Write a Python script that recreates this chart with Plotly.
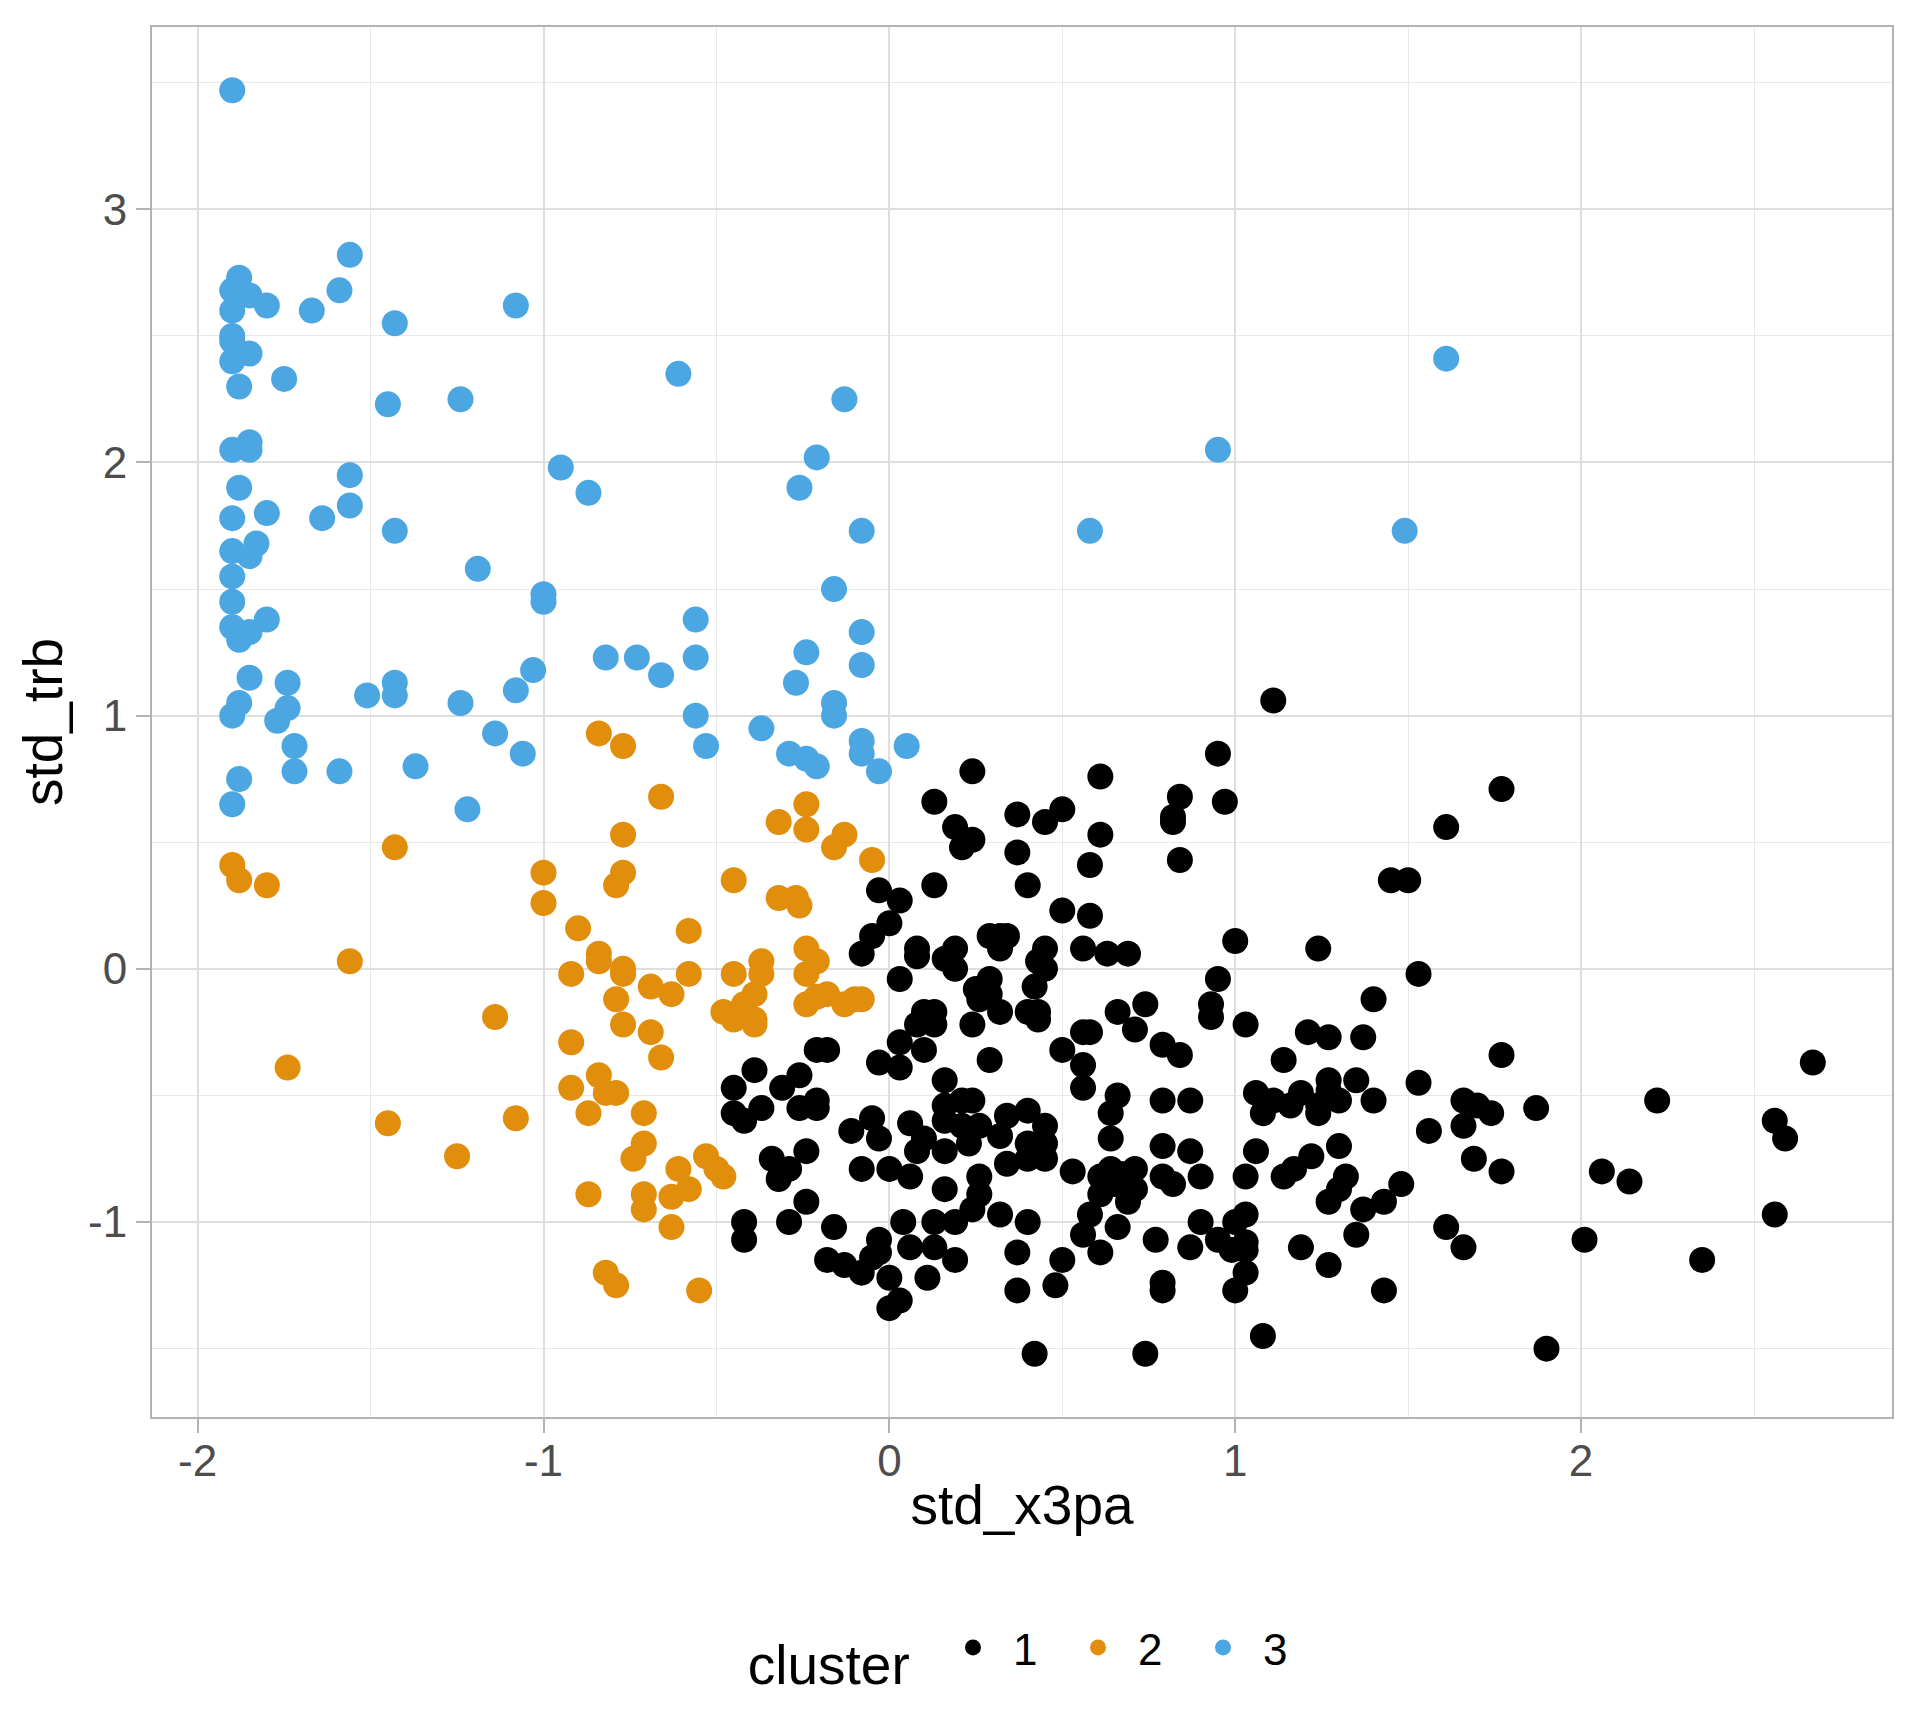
import plotly.graph_objects as go

# cluster 1 (black)
c1_x = [-0.03, 0.03, 0.00, -0.05, -0.08, 0.03,
        -0.21, -0.18, -0.39, -0.45, -0.31, -0.26, -0.37, -0.45, -0.42, -0.26, -0.21, -0.21,
        -0.34, -0.29, -0.32, -0.24, -0.24, -0.42, -0.42, -0.29, -0.16, -0.18, -0.13, -0.08,
        -0.05, -0.03, -0.03, 0.00, 0.03, 0.00, -0.11, -0.05, -0.03, -0.08, 0.00, -0.03, 0.03,
        0.24, 0.61, 0.13, 0.19, 0.24, 0.21, 0.37, 0.45, 0.50, 0.61, 0.84, 0.82, 0.82, 0.97,
        0.37, 0.58, 0.84, 0.13, 0.40, 0.50, 0.58, 0.29, 0.32, 0.34, 0.32, 0.08, 0.08, 0.19,
        0.16, 0.19, 0.45, 0.43, 0.45, 0.56, 0.63, 0.69, 1.00, 0.29, 0.25, 0.26, 0.29, 0.32,
        0.24, 0.42, 0.40, 0.43, 0.43, 0.10, 0.13, 0.13, 0.08, 0.03, 0.10, 0.29, 0.50, 0.56,
        0.58, 0.56, 0.66, 0.74, 0.71, 0.79, 0.84, 0.95, 0.93, 0.93, 0.95, 1.11,
        0.56, 0.16, 0.21, 0.24, 0.16, 0.16, 0.06, 0.21, 0.26, 0.34, 0.40, 0.45, 0.32, 0.40,
        0.45, 0.40, 0.45, 0.34, 0.10, 0.08, 0.16, 0.23, 0.06, 0.26, 0.16, 0.26, 0.24, 0.19,
        0.13, 0.04, 0.06, 0.13, 0.19, 0.11, 0.32, 0.40, 0.37, 0.37, 0.48, 0.50, 0.42, 0.53,
        0.66, 0.64, 0.64, 0.61, 0.64, 0.67, 0.71, 0.71, 0.69, 0.65, 0.61, 0.58, 0.56, 0.66,
        0.61, 0.79, 0.87, 0.79, 0.87, 0.79, 0.82, 0.90, 0.90, 0.77, 0.87, 0.95, 0.79, 0.79,
        0.74,
        1.77, 1.61, 1.45, 1.50, 1.24, 1.53, 1.40, 1.03, 1.21, 1.27, 1.37, 1.14, 1.77,
        1.06, 1.11, 1.08, 1.16, 1.19, 1.24, 1.27, 1.27, 1.30, 1.24, 1.35, 1.40, 1.53, 1.56,
        1.66, 1.70, 1.74, 1.66, 1.87, 1.69, 1.77, 1.06, 1.03, 1.14, 1.17, 1.22, 1.30, 1.32,
        1.30, 1.27, 1.37, 1.43, 1.48, 1.03, 1.00, 1.03, 1.03, 0.99, 1.03, 1.00, 1.19, 1.27,
        1.35, 1.43, 1.61, 1.66, 1.08, 1.90,
        2.22, 2.67, 2.56, 2.59, 2.06, 2.14, 2.56, 2.01, 2.35]
c1_y = [0.31, 0.27, 0.18, 0.13, 0.06, -0.04,
        -0.32, -0.32, -0.40, -0.47, -0.47, -0.42, -0.55, -0.57, -0.60, -0.55, -0.52, -0.55,
        -0.75, -0.79, -0.83, -0.72, -0.92, -1.00, -1.07, -1.00, -1.02, -1.15, -1.17, -1.20,
        -1.14, -1.07, -1.12, -1.22, -1.31, -1.34, -0.64, -0.59, -0.67, -0.79, -0.79, -0.37, -0.39,
        0.78, 0.76, 0.66, 0.56, 0.51, 0.48, 0.61, 0.58, 0.63, 0.53, 0.68, 0.60, 0.58, 0.66,
        0.46, 0.41, 0.43, 0.33, 0.33, 0.23, 0.21, 0.13, 0.13, 0.13, 0.08, 0.08, 0.05, 0.08,
        0.04, 0.00, 0.08, 0.03, 0.00, 0.08, 0.06, 0.06, 0.11, -0.04, -0.08, -0.12, -0.10, -0.17,
        -0.22, -0.07, -0.17, -0.17, -0.20, -0.17, -0.17, -0.22, -0.22, -0.29, -0.32, -0.36, -0.32, -0.25,
        -0.25, -0.38, -0.17, -0.14, -0.24, -0.30, -0.34, -0.04, -0.14, -0.19, 0.85, 1.06,
        -0.47, -0.44, -0.52, -0.52, -0.54, -0.60, -0.61, -0.62, -0.62, -0.58, -0.56, -0.62, -0.66, -0.69,
        -0.69, -0.75, -0.75, -0.77, -0.67, -0.72, -0.72, -0.69, -0.82, -0.82, -0.87, -0.89, -0.95, -1.00,
        -1.00, -1.00, -1.10, -1.10, -1.15, -1.22, -0.97, -1.00, -1.12, -1.27, -1.25, -1.15, -1.52, -0.80,
        -0.50, -0.57, -0.67, -0.82, -0.79, -0.81, -0.79, -0.87, -0.92, -0.85, -0.89, -0.97, -1.05, -1.02,
        -1.12, -0.52, -0.52, -0.70, -0.72, -0.82, -0.85, -0.82, -1.00, -1.07, -1.10, -1.07, -1.24, -1.27,
        -1.52,
        0.71, 0.56, 0.35, 0.35, 0.08, -0.02, -0.12, -0.22, -0.25, -0.27, -0.27, -0.36, -0.34,
        -0.49, -0.52, -0.57, -0.54, -0.49, -0.54, -0.44, -0.48, -0.52, -0.57, -0.44, -0.52, -0.45, -0.64,
        -0.52, -0.54, -0.57, -0.62, -0.55, -0.75, -0.80, -0.72, -0.82, -0.82, -0.79, -0.74, -0.70, -0.82,
        -0.87, -0.92, -0.95, -0.92, -0.85, -0.97, -1.00, -1.08, -1.11, -1.11, -1.20, -1.27, -1.10, -1.17,
        -1.05, -1.27, -1.02, -1.10, -1.45, -1.50,
        -0.52, -0.37, -0.60, -0.67, -0.80, -0.84, -0.97, -1.07, -1.15]

# cluster 2 (orange)
c2_x = [-0.84, -0.77, -0.77, -1.43, -1.90, -1.88, -1.80, -1.00, -1.00, -0.77, -0.79, -0.90,
        -0.84, -0.84, -0.92, -0.77, -0.77, -1.56, -0.79, -0.77, -1.14, -0.92, -1.74, -0.84,
        -0.92, -0.82, -0.79, -0.87, -1.08, -1.45, -1.25,
        -0.66, -0.45, -0.32, -0.24, -0.24, -0.13, -0.16, -0.05, -0.32, -0.27, -0.26, -0.58,
        -0.69, -0.63, -0.58, -0.69, -0.45, -0.37, -0.37, -0.39, -0.48, -0.45, -0.42, -0.39,
        -0.39, -0.24, -0.21, -0.24, -0.24, -0.18, -0.21, -0.13, -0.10, -0.08,
        -0.66, -0.71, -0.71, -0.74, -0.53, -0.50, -0.48, -0.61, -0.58, -0.63, -0.71, -0.71,
        -0.87, -0.63, -0.82, -0.79, -0.55]
c2_y = [0.93, 0.88, 0.53, 0.48, 0.41, 0.35, 0.33, 0.38, 0.26, 0.38, 0.33, 0.16,
        0.06, 0.03, -0.02, 0.00, -0.02, 0.03, -0.12, -0.22, -0.19, -0.29, -0.39, -0.42,
        -0.47, -0.49, -0.49, -0.57, -0.59, -0.61, -0.74,
        0.68, 0.35, 0.58, 0.65, 0.55, 0.53, 0.48, 0.43, 0.28, 0.28, 0.25, 0.15,
        -0.07, -0.10, -0.02, -0.25, -0.02, 0.03, -0.02, -0.10, -0.17, -0.20, -0.14, -0.20,
        -0.22, 0.08, 0.03, -0.02, -0.14, -0.10, -0.11, -0.14, -0.12, -0.12,
        -0.35, -0.57, -0.69, -0.75, -0.74, -0.79, -0.82, -0.79, -0.87, -0.90, -0.89, -0.95,
        -0.89, -1.02, -1.20, -1.25, -1.27]

# cluster 3 (blue)
c3_x = [-1.90, -1.56, -1.88, -1.90, -1.85, -1.80, -1.90, -1.67, -1.59, -1.43, -1.08, -1.90,
        -1.90, -1.85, -1.90, -1.88, -1.75, -1.45, -1.24, -1.90, -1.85, -1.85, -1.56, -0.95,
        -1.88, -0.87, -1.90, -1.80, -1.64, -1.56, -1.43, -1.90, -1.83, -1.85, -1.19,
        -1.90, -1.00, -1.00, -1.90, -1.80, -1.90, -1.88, -1.85, -0.82, -0.73, -1.85, -1.74,
        -1.43, -1.43, -1.51, -1.24, -1.08, -1.03, -1.88, -1.90, -1.74, -1.77, -1.72, -1.14,
        -1.06, -1.88, -1.72, -1.59, -1.37, -1.90, -1.22,
        -0.61, -0.13, -0.21, -0.26, -0.08, 0.58, -0.16, -0.56,
        0.95, 1.61, 1.49, -0.66,
        -0.56, -0.56, -0.53, -0.08, -0.08, -0.24, -0.27, -0.16, -0.16, -0.37, -0.29, -0.24,
        -0.21, -0.08, -0.08, -0.03, 0.05]
c3_y = [3.47, 2.82, 2.73, 2.68, 2.66, 2.62, 2.60, 2.60, 2.68, 2.55, 2.62, 2.50,
        2.48, 2.43, 2.40, 2.30, 2.33, 2.23, 2.25, 2.05, 2.08, 2.05, 1.95, 1.98,
        1.90, 1.88, 1.78, 1.80, 1.78, 1.83, 1.73, 1.65, 1.68, 1.63, 1.58,
        1.55, 1.48, 1.45, 1.45, 1.38, 1.35, 1.30, 1.33, 1.23, 1.23, 1.15, 1.13,
        1.13, 1.08, 1.08, 1.05, 1.10, 1.18, 1.05, 1.00, 1.03, 0.98, 0.88, 0.93,
        0.85, 0.75, 0.78, 0.78, 0.80, 0.65, 0.63,
        2.35, 2.25, 2.02, 1.90, 1.73, 1.73, 1.50, 1.38,
        2.05, 2.41, 1.73, 1.16,
        1.23, 1.00, 0.88, 1.33, 1.20, 1.25, 1.13, 1.05, 1.00, 0.95, 0.85, 0.83,
        0.80, 0.90, 0.85, 0.78, 0.88]

clusters = ["1", "2", "3"]
colors = ["#000000", "#E08E0B", "#4BA6E2"]
series = [(c1_x, c1_y), (c2_x, c2_y), (c3_x, c3_y)]

x_ticks = [-2, -1, 0, 1, 2]
y_ticks = [-1, 0, 1, 2, 3]
x_ticktext = ["-2", "-1", "0", "1", "2"]
y_ticktext = ["-1", "0", "1", "2", "3"]

FONT = "Liberation Sans, Arial, sans-serif"

fig = go.Figure()
for name, color, (xs, ys) in zip(clusters, colors, series):
    fig.add_trace(go.Scatter(x=xs, y=ys, mode="markers", name=name,
                             marker=dict(color=color, size=26, line=dict(width=0))))

axis_common = dict(
    showline=True, linecolor="#b3b3b3", linewidth=2, mirror=True,
    ticks="outside", ticklen=14, tickwidth=2, tickcolor="#b3b3b3",
    showgrid=True, gridcolor="#dedede", gridwidth=1.6, zeroline=False,
    minor=dict(dtick=0.5, showgrid=True, gridcolor="#e8e8e8", gridwidth=0.8, ticks=""),
    tickfont=dict(family=FONT, size=44, color="#4d4d4d"),
)

fig.update_xaxes(range=[-2.132, 2.899], tickvals=x_ticks, ticktext=x_ticktext,
                 ticklabelstandoff=-10,
                 title=dict(text="std_x3pa", font=dict(family=FONT, size=55, color="black"),
                            standoff=2),
                 **axis_common)
fig.update_yaxes(range=[-1.77, 3.72], tickvals=y_ticks, ticktext=y_ticktext,
                 title=dict(text="std_trb", font=dict(family=FONT, size=55, color="black"),
                            standoff=8),
                 **axis_common)

# page body adds an 8px offset, margins compensate
fig.update_layout(
    width=1920, height=1728,
    margin=dict(l=144, r=36, t=19, b=319),
    plot_bgcolor="white", paper_bgcolor="white",
    showlegend=True,
    legend=dict(orientation="h", x=0.503, xanchor="center", y=-0.17, yanchor="middle",
                title=dict(text="cluster ", side="left",
                           font=dict(family=FONT, size=55, color="black")),
                font=dict(family=FONT, size=44, color="black"),
                itemsizing="trace", itemwidth=70, entrywidth=40, entrywidthmode="pixels"),
)

fig.write_html("out.html")
